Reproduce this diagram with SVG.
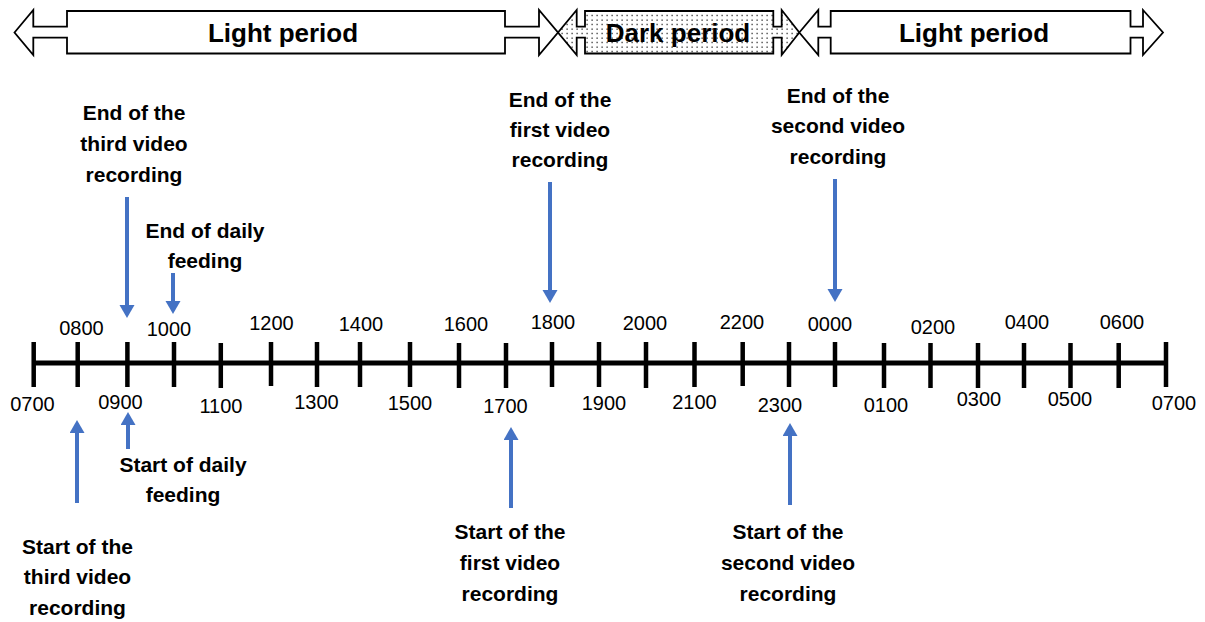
<svg xmlns="http://www.w3.org/2000/svg" width="1205" height="622" viewBox="0 0 1205 622">
<style>
.band{stroke:#000;stroke-width:1.8;stroke-linejoin:miter}
.light{fill:#fff}
.dark{fill:url(#dots)}
.title{font-family:"Liberation Sans",Arial,sans-serif;font-weight:bold;font-size:26px;fill:#000;text-anchor:middle}
.lbl{font-family:"Liberation Sans",Arial,sans-serif;font-size:20px;fill:#000;text-anchor:middle}
.note{font-family:"Liberation Sans",Arial,sans-serif;font-weight:bold;font-size:21px;fill:#000;text-anchor:middle}
.axis{stroke:#000;stroke-width:5;fill:none}
.tick{stroke:#000;stroke-width:4.5;fill:none}
.arr{stroke:#4472C4;stroke-width:4;fill:none;marker-end:url(#head)}
</style>
<defs>
<pattern id="dots" width="5" height="4.5" patternUnits="userSpaceOnUse">
<rect width="5" height="4.5" fill="#fff"/>
<rect x="1.5" y="1.5" width="1.2" height="1.2" fill="#000"/>
</pattern>
<marker id="head" markerUnits="userSpaceOnUse" markerWidth="14" markerHeight="16" refX="3" refY="7.5" orient="auto">
<path d="M0,0 L13,7.5 L0,15 z" fill="#4472C4"/>
</marker>
</defs>

<g id="light-period-1">
<polygon class="band light" points="14.5,32.5 33.3,10 33.3,26.7 67,26.7 67,11 505,11 505,26.7 539,26.7 539,10 558,32.5 539,55 539,37.7 505,37.7 505,53.5 67,53.5 67,37.7 33.3,37.7 33.3,55"/>
<text class="title" x="283" y="42">Light period</text>
</g>
<g id="dark-period">
<polygon class="band dark" points="558,32.5 576.7,10 576.7,26.7 585,26.7 585,11 773.3,11 773.3,26.7 781.7,26.7 781.7,10 799.3,32.5 781.7,55 781.7,37.7 773.3,37.7 773.3,53.5 585,53.5 585,37.7 576.7,37.7 576.7,55"/>
<text class="title" x="678" y="42">Dark period</text>
</g>
<g id="light-period-2">
<polygon class="band light" points="799.3,32.5 818.3,10 818.3,26.7 830.7,26.7 830.7,11 1130.5,11 1130.5,26.7 1143,26.7 1143,10 1163,32.5 1143,55 1143,37.7 1130.5,37.7 1130.5,53.5 830.7,53.5 830.7,37.7 818.3,37.7 818.3,55"/>
<text class="title" x="974" y="42">Light period</text>
</g>

<g id="timeline">
<line class="axis" x1="33.7" y1="363" x2="1166" y2="363"/>
<path class="tick" d="M33.7,342V387 M77.7,342V387 M127.4,342V387 M174,342V387 M220.8,343V388 M271,342V386 M317,342V387 M360,342V387 M410,342V387 M459,343V388 M506,343V388 M552,342V387 M599,342V387 M646,342V388 M694.5,342V387 M742.7,342V386 M789,342V387 M835,342V387 M884,343V388 M930.5,343V388 M978,343V388 M1024,343V388 M1070.5,343V388 M1118.7,343V388 M1166,342V387"/>
</g>

<g id="hour-labels">
<text class="lbl" x="81.5" y="335">0800</text>
<text class="lbl" x="169" y="336">1000</text>
<text class="lbl" x="271.5" y="330">1200</text>
<text class="lbl" x="361" y="331">1400</text>
<text class="lbl" x="466" y="331">1600</text>
<text class="lbl" x="553" y="329">1800</text>
<text class="lbl" x="645" y="330">2000</text>
<text class="lbl" x="742" y="329">2200</text>
<text class="lbl" x="830" y="331">0000</text>
<text class="lbl" x="933" y="334">0200</text>
<text class="lbl" x="1027" y="329">0400</text>
<text class="lbl" x="1122" y="329">0600</text>
<text class="lbl" x="32.5" y="411">0700</text>
<text class="lbl" x="120.5" y="409">0900</text>
<text class="lbl" x="221" y="413">1100</text>
<text class="lbl" x="316.5" y="409">1300</text>
<text class="lbl" x="410" y="410">1500</text>
<text class="lbl" x="505.5" y="413">1700</text>
<text class="lbl" x="604" y="410">1900</text>
<text class="lbl" x="694.5" y="409">2100</text>
<text class="lbl" x="780" y="412">2300</text>
<text class="lbl" x="886" y="412">0100</text>
<text class="lbl" x="979" y="406">0300</text>
<text class="lbl" x="1070" y="406">0500</text>
<text class="lbl" x="1174" y="410">0700</text>
</g>

<g id="connectors">
<line class="arr" x1="127" y1="197" x2="127" y2="308"/>
<line class="arr" x1="173" y1="273" x2="173" y2="304"/>
<line class="arr" x1="550" y1="182" x2="550" y2="293"/>
<line class="arr" x1="835" y1="179" x2="835" y2="292"/>
<line class="arr" x1="77" y1="503" x2="77" y2="430"/>
<line class="arr" x1="128" y1="449" x2="128" y2="422"/>
<line class="arr" x1="511" y1="508" x2="511" y2="437"/>
<line class="arr" x1="790" y1="505" x2="790" y2="433"/>
</g>

<g id="end-third-video">
<text class="note" x="134" y="120">End of the</text>
<text class="note" x="134" y="151">third video</text>
<text class="note" x="134" y="182">recording</text>
</g>
<g id="end-daily-feeding">
<text class="note" x="205" y="238">End of daily</text>
<text class="note" x="205" y="268">feeding</text>
</g>
<g id="end-first-video">
<text class="note" x="560" y="107">End of the</text>
<text class="note" x="560" y="137">first video</text>
<text class="note" x="560" y="167">recording</text>
</g>
<g id="end-second-video">
<text class="note" x="838" y="103">End of the</text>
<text class="note" x="838" y="133">second video</text>
<text class="note" x="838" y="164">recording</text>
</g>
<g id="start-daily-feeding">
<text class="note" x="183" y="472">Start of daily</text>
<text class="note" x="183" y="502">feeding</text>
</g>
<g id="start-third-video">
<text class="note" x="77.5" y="554">Start of the</text>
<text class="note" x="77.5" y="584">third video</text>
<text class="note" x="77.5" y="615">recording</text>
</g>
<g id="start-first-video">
<text class="note" x="510" y="539">Start of the</text>
<text class="note" x="510" y="570">first video</text>
<text class="note" x="510" y="601">recording</text>
</g>
<g id="start-second-video">
<text class="note" x="788" y="539">Start of the</text>
<text class="note" x="788" y="570">second video</text>
<text class="note" x="788" y="601">recording</text>
</g>
</svg>
